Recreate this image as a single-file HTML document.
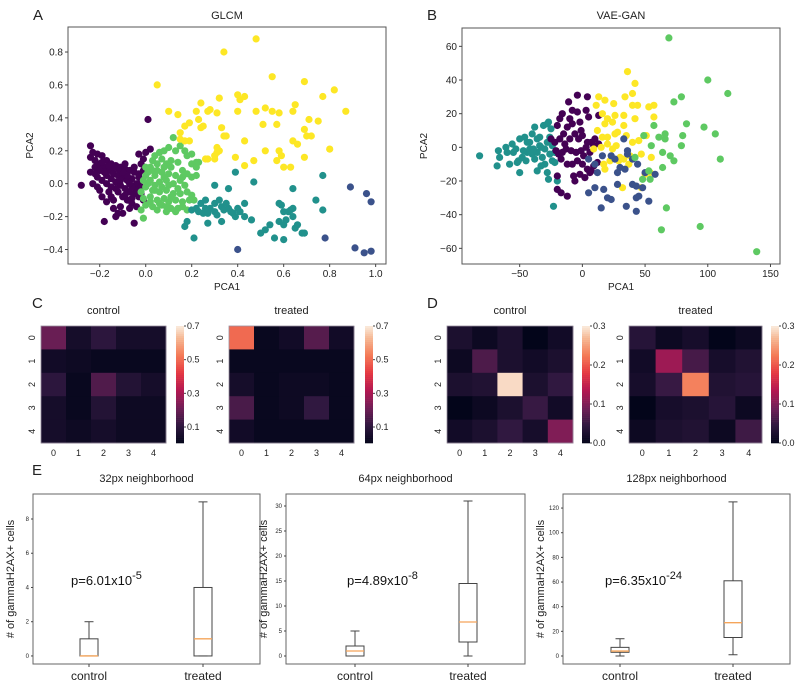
<!DOCTYPE html>
<html><head><meta charset="utf-8"><style>
html,body{margin:0;padding:0;background:#fff;}
svg{display:block;font-family:"Liberation Sans",sans-serif;}
</style></head><body>
<svg id="fig" width="800" height="692" viewBox="0 0 800 692" xmlns="http://www.w3.org/2000/svg"></svg>
<script>
// ---------- DATA ----------
const aYellow=[[0.05,0.6],[0.34,0.8],[0.48,0.88],[0.55,0.65],[0.69,0.62],[0.82,0.57],[0.77,0.53],[0.87,0.44],[0.4,0.54],[0.43,0.53],[0.41,0.51],[0.32,0.52],[0.24,0.49],[0.22,0.44],[0.28,0.45],[0.27,0.44],[0.31,0.43],[0.1,0.44],[0.14,0.42],[0.4,0.44],[0.48,0.44],[0.52,0.46],[0.55,0.44],[0.58,0.43],[0.64,0.44],[0.65,0.48],[0.71,0.39],[0.75,0.38],[0.69,0.33],[0.51,0.36],[0.57,0.36],[0.24,0.34],[0.23,0.39],[0.19,0.37],[0.17,0.35],[0.25,0.35],[0.33,0.34],[0.34,0.29],[0.35,0.29],[0.15,0.31],[0.15,0.27],[0.17,0.26],[0.19,0.26],[0.43,0.26],[0.31,0.22],[0.31,0.19],[0.3,0.17],[0.27,0.15],[0.3,0.15],[0.39,0.16],[0.43,0.11],[0.47,0.14],[0.52,0.2],[0.58,0.2],[0.59,0.17],[0.57,0.14],[0.6,0.1],[0.63,0.1],[0.64,0.26],[0.66,0.24],[0.7,0.29],[0.72,0.29],[0.69,0.16],[0.8,0.21],[0.26,0.15],[0.32,0.2]];
const aTeal=[[0.39,0.07],[0.47,0.01],[0.77,0.05],[0.3,-0.01],[0.36,-0.03],[0.64,-0.03],[0.74,-0.1],[0.77,-0.16],[0.58,-0.12],[0.59,-0.13],[0.43,-0.12],[0.43,-0.2],[0.46,-0.22],[0.22,-0.15],[0.24,-0.12],[0.26,-0.1],[0.28,-0.15],[0.3,-0.12],[0.32,-0.1],[0.33,-0.14],[0.25,-0.18],[0.27,-0.18],[0.3,-0.17],[0.34,-0.16],[0.36,-0.15],[0.38,-0.18],[0.4,-0.15],[0.41,-0.17],[0.39,-0.2],[0.27,-0.24],[0.33,-0.23],[0.18,-0.23],[0.17,-0.26],[0.21,-0.33],[0.5,-0.3],[0.52,-0.28],[0.54,-0.25],[0.56,-0.33],[0.6,-0.34],[0.58,-0.23],[0.6,-0.25],[0.61,-0.22],[0.6,-0.17],[0.62,-0.17],[0.63,-0.16],[0.64,-0.15],[0.64,-0.2],[0.65,-0.27],[0.66,-0.25],[0.68,-0.3],[0.69,-0.3],[0.2,-0.16],[0.23,-0.17],[0.26,-0.15],[0.31,-0.19],[0.35,-0.12],[0.37,-0.17]];
const aBlue=[[0.89,-0.02],[0.96,-0.06],[0.98,-0.11],[0.78,-0.33],[0.91,-0.39],[0.95,-0.42],[0.98,-0.41],[0.4,-0.4]];
const aGreen=[[0.12,0.28],[0.15,0.23],[0.17,0.2],[0.18,0.17],[0.2,0.18],[0.2,0.12],[0.22,0.13],[0.23,0.13],[0.22,0.1],[0.22,0.05],[0.2,0.04],[0.13,0.2],[0.1,0.22],[0.08,0.2],[0.06,0.19],[0.05,0.12],[0.02,0.1],[0.0,0.1],[0.03,0.14],[0.07,0.15],[0.09,0.12],[0.11,0.1],[0.14,0.13],[0.16,0.08],[0.18,0.06],[0.13,0.05],[0.1,0.06],[0.07,0.07],[0.04,0.05],[0.0,0.05],[0.02,0.02],[0.06,0.01],[0.09,0.02],[0.12,0.0],[0.15,0.02],[0.17,-0.01],[0.0,-0.02],[0.03,-0.04],[0.06,-0.05],[0.09,-0.04],[0.12,-0.06],[0.15,-0.06],[0.18,-0.05],[0.2,-0.07],[-0.02,-0.05],[-0.01,-0.09],[0.02,-0.08],[0.05,-0.1],[0.08,-0.09],[0.1,-0.11],[0.13,-0.1],[0.16,-0.11],[0.19,-0.1],[0.21,-0.1],[0.0,-0.13],[0.03,-0.14],[0.07,-0.13],[0.11,-0.15],[0.14,-0.15],[0.18,-0.16],[-0.02,-0.16],[0.05,-0.16],[0.09,-0.17],[0.13,-0.17],[-0.01,-0.21],[0.04,-0.04],[0.01,0.0],[0.08,0.04],[0.11,0.14],[0.04,0.17],[0.04,-0.01],[0.07,-0.02],[0.1,-0.01],[0.02,-0.11],[0.06,-0.12],[0.11,-0.08],[0.14,-0.03],[0.16,0.04],[0.01,0.07],[0.05,0.08],[0.08,0.1],[0.03,0.08],[-0.01,0.02],[0.09,-0.14],[0.16,-0.14]];
const aPurple=[[0.01,0.39],[-0.24,0.23],[0.02,0.21],[0.0,0.19],[-0.28,-0.01],[-0.18,-0.23],[-0.05,-0.24],[-0.1,-0.18],[-0.12,-0.18],[-0.13,-0.2],[-0.14,-0.15],[-0.11,-0.14],[-0.17,-0.11],[-0.15,-0.08],[-0.2,-0.04],[-0.23,0.0],[-0.21,0.04],[-0.24,0.07],[-0.22,0.1],[-0.24,0.16],[-0.23,0.19],[-0.21,0.18],[-0.19,0.17],[-0.17,0.14],[-0.15,0.12],[-0.13,0.11],[-0.11,0.1],[-0.09,0.09],[-0.07,0.08],[-0.05,0.07],[-0.03,0.06],[-0.01,0.08],[-0.02,0.02],[-0.2,0.12],[-0.18,0.1],[-0.16,0.08],[-0.14,0.06],[-0.12,0.05],[-0.1,0.04],[-0.08,0.02],[-0.06,0.03],[-0.04,0.0],[-0.02,-0.02],[-0.22,0.14],[-0.19,0.13],[-0.17,0.05],[-0.15,0.03],[-0.13,0.01],[-0.11,-0.01],[-0.09,-0.03],[-0.07,-0.05],[-0.05,-0.06],[-0.03,-0.08],[-0.01,-0.1],[-0.12,-0.05],[-0.1,-0.08],[-0.08,-0.1],[-0.06,-0.12],[-0.04,-0.04],[-0.06,-0.02],[-0.08,0.05],[-0.1,0.07],[-0.12,0.09],[-0.14,0.1],[-0.16,0.11],[-0.18,0.07],[-0.2,0.08],[-0.13,-0.03],[-0.15,-0.02],[-0.17,0.0],[-0.19,0.02],[-0.03,0.04],[-0.05,0.1],[-0.09,0.12],[-0.21,-0.02],[-0.02,0.12],[-0.06,-0.09],[-0.09,-0.07],[-0.07,0.0],[-0.11,0.02],[-0.14,-0.1],[-0.16,-0.05],[-0.04,-0.14],[-0.02,-0.06],[-0.07,-0.15],[-0.22,0.06],[-0.19,-0.08],[-0.01,0.15],[-0.03,0.18]];

const bTeal=[[-82,-5],[-68,-11],[-66,-6],[-67,-2],[-61,0],[-58,-10],[-55,-3],[-52,-9],[-50,-15],[-51,-8],[-48,-6],[-50,5],[-46,6],[-44,3],[-42,-1],[-40,-4],[-38,-7],[-36,-3],[-34,1],[-32,-6],[-30,-1],[-28,3],[-26,-4],[-24,-8],[-22,-9],[-30,-10],[-28,-15],[-33,-11],[-36,-14],[-40,8],[-38,12],[-34,6],[-31,13],[-28,14],[-27,15],[-26,6],[-25,11],[-44,-3],[-47,-2],[-53,-1],[-56,2],[-60,-3],[-27,-19],[-20,-20],[-23,-35],[-36,5],[-33,0],[-42,3],[-24,1],[-22,-3],[-45,-8],[-39,-1]];
const bPurple=[[-4,31],[4,30],[-11,27],[-16,20],[-18,17],[-20,13],[-15,8],[-12,12],[-10,17],[-8,22],[-4,21],[-2,15],[3,22],[5,18],[13,19],[-25,5],[-22,3],[-18,5],[-14,2],[-10,5],[-6,8],[-3,5],[0,7],[4,3],[7,3],[10,5],[-21,-2],[-19,-4],[-16,-3],[-13,-1],[-9,-2],[-5,-3],[-1,-2],[3,0],[6,-3],[9,1],[-17,-7],[-12,-10],[-8,-10],[-4,-8],[0,-10],[4,-13],[7,-14],[-2,-16],[-7,-17],[-20,-17],[-20,-25],[-17,-27],[-12,-29],[-6,-20],[2,-18],[6,-15],[13,2],[-1,10],[-8,14],[1,-5],[12,-9],[9,-11]];
const bYellow=[[36,45],[42,38],[40,32],[13,30],[18,28],[25,26],[34,30],[40,25],[44,25],[53,24],[57,25],[57,18],[11,25],[16,20],[20,17],[26,19],[33,19],[42,17],[18,14],[24,15],[33,13],[12,10],[16,6],[20,6],[26,8],[28,9],[35,7],[40,3],[45,4],[51,7],[15,0],[20,2],[24,-1],[30,-6],[33,-7],[38,-5],[37,-10],[47,-4],[55,-6],[17,-10],[22,-8],[18,-13],[29,-8],[32,-24],[47,-24],[50,-16],[54,-15],[9,-1],[27,1]];
const bBlue=[[33,5],[5,-7],[10,-10],[16,-5],[23,-5],[26,-7],[30,-12],[36,-4],[40,-7],[12,-15],[28,-15],[34,-13],[44,-10],[50,-15],[58,-16],[5,-27],[10,-24],[17,-25],[23,-31],[20,-30],[15,-36],[28,-22],[35,-35],[40,-22],[43,-23],[43,-30],[45,-29],[48,-24],[53,-32],[43,-38],[36,-2]];
const bGreen=[[69,65],[100,40],[116,32],[79,30],[73,27],[83,14],[97,12],[57,13],[61,6],[66,8],[80,7],[106,8],[49,7],[55,1],[79,1],[64,-3],[70,-5],[73,-8],[110,-7],[42,-6],[48,-19],[54,-19],[64,-12],[67,-36],[63,-49],[94,-47],[139,-62],[66,5],[53,-14]];

const aXTicks=[-0.2,0,0.2,0.4,0.6,0.8,1.0];
const aYTicks=[-0.4,-0.2,0,0.2,0.4,0.6,0.8];
const bXTicks=[-50,0,50,100,150];
const bYTicks=[-60,-40,-20,0,20,40,60];

const cControl=[[0.2,0.05,0.1,0.05,0.05],[0.04,0.03,0.02,0.02,0.02],[0.1,0.02,0.16,0.08,0.05],[0.05,0.02,0.08,0.03,0.03],[0.05,0.03,0.05,0.03,0.03]];
const cTreated=[[0.5,0.02,0.04,0.17,0.04],[0.02,0.02,0.02,0.02,0.02],[0.05,0.02,0.03,0.03,0.02],[0.15,0.02,0.03,0.11,0.02],[0.04,0.02,0.02,0.02,0.02]];
const dControl=[[0.025,0.01,0.025,0.0,0.015],[0.01,0.065,0.025,0.015,0.025],[0.025,0.03,0.29,0.025,0.045],[0.0,0.01,0.025,0.05,0.015],[0.015,0.025,0.045,0.02,0.1]];
const dTreated=[[0.035,0.01,0.02,0.0,0.01],[0.015,0.12,0.06,0.02,0.03],[0.02,0.05,0.23,0.03,0.035],[0.0,0.02,0.025,0.035,0.01],[0.01,0.025,0.03,0.01,0.055]];
const cTicks=[0.1,0.3,0.5,0.7];
const dTicks=[0.0,0.1,0.2,0.3];

const boxCats=["control","treated"];
const box32=[[0,0,0,1,2],[0,0,1,4,9]];
const box64=[[0,0,1,2,5],[0,2.8,6.8,14.5,31]];
const box128=[[0,3,4,7,14],[1,15,27,61,125]];
const box32Ticks=[0,2,4,6,8];
const box64Ticks=[0,5,10,15,20,25,30];
const box128Ticks=[0,20,40,60,80,100,120];

// ---------- HELPERS ----------
const NS="http://www.w3.org/2000/svg";
const svg=document.getElementById('fig');
function mk(tag,attrs,parent){const e=document.createElementNS(NS,tag);for(const k in attrs)e.setAttribute(k,attrs[k]);(parent||svg).appendChild(e);return e;}
function txt(s,x,y,size,anchor,parent,rot){const e=mk('text',{x:x,y:y,'font-size':size,'text-anchor':anchor||'middle',fill:'#222'},parent);if(rot)e.setAttribute('transform','rotate(-90 '+x+' '+y+')');e.textContent=s;return e;}
function lin(d0,d1,r0,r1){return v=>r0+(v-d0)*(r1-r0)/(d1-d0);}

const rocketStops=[[0,[3,5,26]],[0.15,[48,24,64]],[0.3,[113,31,87]],[0.45,[179,24,82]],[0.6,[229,57,67]],[0.75,[244,122,86]],[0.9,[246,185,149]],[1,[250,235,221]]];
function rocket(t){t=Math.max(0,Math.min(1,t));for(let i=1;i<rocketStops.length;i++){if(t<=rocketStops[i][0]){const a=rocketStops[i-1],b=rocketStops[i];const f=(t-a[0])/(b[0]-a[0]);const c=a[1].map((v,j)=>Math.round(v+(b[1][j]-v)*f));return 'rgb('+c.join(',')+')';}}return 'rgb(250,235,221)';}

// ---------- PANEL LETTERS ----------
[['A',33,20],['B',427,20],['C',32,308],['D',427,308],['E',32,475]].forEach(p=>{
  const t=txt(p[0],p[1],p[2],15,'start');
  
  
});

// ---------- SCATTER ----------
function scatter(cfg){
  const g=mk('g',{});
  
  
  const X=lin(cfg.xlim[0],cfg.xlim[1],cfg.x0,cfg.x1), Y=lin(cfg.ylim[0],cfg.ylim[1],cfg.y1,cfg.y0);
  cfg.series.forEach(s=>{
    const sg=mk('g',{fill:s.color},g);
    
    
    s.data.forEach(p=>{
      const c=mk('circle',{cx:X(p[0]).toFixed(1),cy:Y(p[1]).toFixed(1),r:3.6},sg);
      
      
    });
  });
  const fr=mk('rect',{x:cfg.x0,y:cfg.y0,width:cfg.x1-cfg.x0,height:cfg.y1-cfg.y0,fill:'none',stroke:'#555','stroke-width':1},g);
  
  
  cfg.xt.forEach(v=>{const x=X(v);mk('line',{x1:x,x2:x,y1:cfg.y1,y2:cfg.y1+3,stroke:'#444'},g);
    const t=txt(cfg.fmt(v),x,cfg.y1+13,10,'middle',g);});
  cfg.yt.forEach(v=>{const y=Y(v);mk('line',{x1:cfg.x0-3,x2:cfg.x0,y1:y,y2:y,stroke:'#444'},g);
    const t=txt(cfg.fmt(v),cfg.x0-5,y+3.5,10,'end',g);});
  const ti=txt(cfg.title,(cfg.x0+cfg.x1)/2,19,11,'middle',g);
  const xl=txt('PCA1',(cfg.x0+cfg.x1)/2,290,10,'middle',g);
  const yl=txt('PCA2',cfg.x0-35,(cfg.y0+cfg.y1)/2,10,'middle',g,true);
}
const neg=s=>s.replace('-','\u2212');
scatter({name:'glcm-scatter',title:'GLCM',x0:68,x1:386,y0:27,y1:264,xlim:[-0.338,1.045],ylim:[-0.488,0.952],xt:aXTicks,yt:aYTicks,fmt:v=>neg(v.toFixed(1)),
  series:[{name:'cluster-purple',color:'#440154',data:aPurple},{name:'cluster-green',color:'#5ec962',data:aGreen},{name:'cluster-teal',color:'#21918c',data:aTeal},{name:'cluster-blue',color:'#3b528b',data:aBlue},{name:'cluster-yellow',color:'#fde725',data:aYellow}]});
scatter({name:'vae-gan-scatter',title:'VAE-GAN',x0:462,x1:780,y0:28,y1:264,xlim:[-96,157.6],ylim:[-69.3,70.9],xt:bXTicks,yt:bYTicks,fmt:v=>neg(String(v)),
  series:[{name:'cluster-teal',color:'#21918c',data:bTeal},{name:'cluster-purple',color:'#440154',data:bPurple},{name:'cluster-yellow',color:'#fde725',data:bYellow},{name:'cluster-blue',color:'#3b528b',data:bBlue},{name:'cluster-green',color:'#5ec962',data:bGreen}]});

// ---------- HEATMAPS ----------
function heatmap(cfg){
  const g=mk('g',{});
  
  
  const x0=cfg.x0,x1=cfg.x1,y0=326,y1=443,cw=(x1-x0)/5,ch=(y1-y0)/5;
  cfg.data.forEach((row,r)=>row.forEach((v,c)=>{
    const rc=mk('rect',{x:(x0+c*cw).toFixed(2),y:(y0+r*ch).toFixed(2),width:(cw+0.4).toFixed(2),height:(ch+0.4).toFixed(2),fill:rocket((v-cfg.vmin)/(cfg.vmax-cfg.vmin))},g);
    
    
  }));
  mk('rect',{x:x0,y:y0,width:x1-x0,height:y1-y0,fill:'none',stroke:'#9a8fa0','stroke-width':0.8},g);
  for(let i=0;i<5;i++){
    const t=txt(String(i),x0+cw*(i+0.5),456,9,'middle',g);
    const yy=y0+ch*(i+0.5);const t2=txt(String(i),x0-6,yy,9,'middle',g);t2.setAttribute('transform','rotate(-90 '+(x0-6)+' '+yy+')');
    
  }
  const ti=txt(cfg.title,(x0+x1)/2,314,11,'middle',g);
  const cb=mk('g',{},g);
  
  
  const n=60,bh=(y1-y0)/n;
  for(let i=0;i<n;i++){mk('rect',{x:cfg.cbx,y:(y1-(i+1)*bh).toFixed(2),width:8,height:(bh+0.3).toFixed(2),fill:rocket((i+0.5)/n)},cb);}
  const CY=lin(cfg.vmin,cfg.vmax,y1,y0);
  cfg.ticks.forEach(v=>{const y=CY(v);mk('line',{x1:cfg.cbx+8,x2:cfg.cbx+10,y1:y,y2:y,stroke:'#444'},cb);
    const t=txt(v.toFixed(1),cfg.cbx+11,y+3,9,'start',cb);});
}
heatmap({name:'glcm-control-heatmap',title:'control',x0:41,x1:166,cbx:176,data:cControl,vmin:0.005,vmax:0.7,ticks:cTicks});
heatmap({name:'glcm-treated-heatmap',title:'treated',x0:229,x1:354,cbx:365,data:cTreated,vmin:0.005,vmax:0.7,ticks:cTicks});
heatmap({name:'vaegan-control-heatmap',title:'control',x0:447,x1:573,cbx:582,data:dControl,vmin:0,vmax:0.3,ticks:dTicks});
heatmap({name:'vaegan-treated-heatmap',title:'treated',x0:629,x1:762,cbx:771,data:dTreated,vmin:0,vmax:0.3,ticks:dTicks});

// ---------- BOX PLOTS ----------
function boxplot(cfg){
  const g=mk('g',{});
  
  
  const y0=494,y1=664,Y=lin(cfg.ylim[0],cfg.ylim[1],y1,y0);
  mk('rect',{x:cfg.x0,y:y0,width:cfg.x1-cfg.x0,height:y1-y0,fill:'none',stroke:'#666','stroke-width':1},g);
  cfg.ticks.forEach(v=>{const y=Y(v);mk('line',{x1:cfg.x0-2,x2:cfg.x0,y1:y,y2:y,stroke:'#444'},g);
    const t=txt(String(v),cfg.x0-4,y+2,6,'end',g);});
  cfg.data.forEach((d,i)=>{
    const cx=cfg.cx[i];
    const bg=mk('g',{stroke:'#444','stroke-width':1,fill:'none'},g);
    
    
    mk('line',{x1:cx,x2:cx,y1:Y(d[0]),y2:Y(d[1])},bg);
    mk('line',{x1:cx,x2:cx,y1:Y(d[3]),y2:Y(d[4])},bg);
    mk('line',{x1:cx-4.5,x2:cx+4.5,y1:Y(d[0]),y2:Y(d[0])},bg);
    mk('line',{x1:cx-4.5,x2:cx+4.5,y1:Y(d[4]),y2:Y(d[4])},bg);
    mk('rect',{x:cx-9,y:Y(d[3]),width:18,height:Math.max(0.5,Y(d[1])-Y(d[3]))},bg);
    mk('line',{x1:cx-9,x2:cx+9,y1:Y(d[2]),y2:Y(d[2]),stroke:'#f5a55a','stroke-width':1.3},bg);
    mk('line',{x1:cx,x2:cx,y1:y1,y2:y1+3,stroke:'#444'},g);
    const t=txt(boxCats[i],cx,680,12,'middle',g);
  });
  const ti=txt(cfg.title,(cfg.x0+cfg.x1)/2,482,11,'middle',g);
  const yl=txt('# of gammaH2AX+ cells',cfg.x0-19,579,11,'middle',g,true);
  const p=mk('text',{x:cfg.px,y:cfg.py,'font-size':13,fill:'#111'},g);
  
  
  p.textContent=cfg.p;
  const sup=mk('tspan',{dy:-6,'font-size':11},p);sup.textContent=cfg.exp;
}
boxplot({name:'boxplot-32px',title:'32px neighborhood',x0:33,x1:260,cx:[89,203],ylim:[-0.47,9.46],ticks:box32Ticks,data:box32,p:'p=6.01x10',exp:'-5',px:71,py:585});
boxplot({name:'boxplot-64px',title:'64px neighborhood',x0:286,x1:525,cx:[355,468],ylim:[-1.6,32.4],ticks:box64Ticks,data:box64,p:'p=4.89x10',exp:'-8',px:347,py:585});
boxplot({name:'boxplot-128px',title:'128px neighborhood',x0:563,x1:790,cx:[620,733],ylim:[-6.5,131.4],ticks:box128Ticks,data:box128,p:'p=6.35x10',exp:'-24',px:605,py:585});
</script>
</body></html>
